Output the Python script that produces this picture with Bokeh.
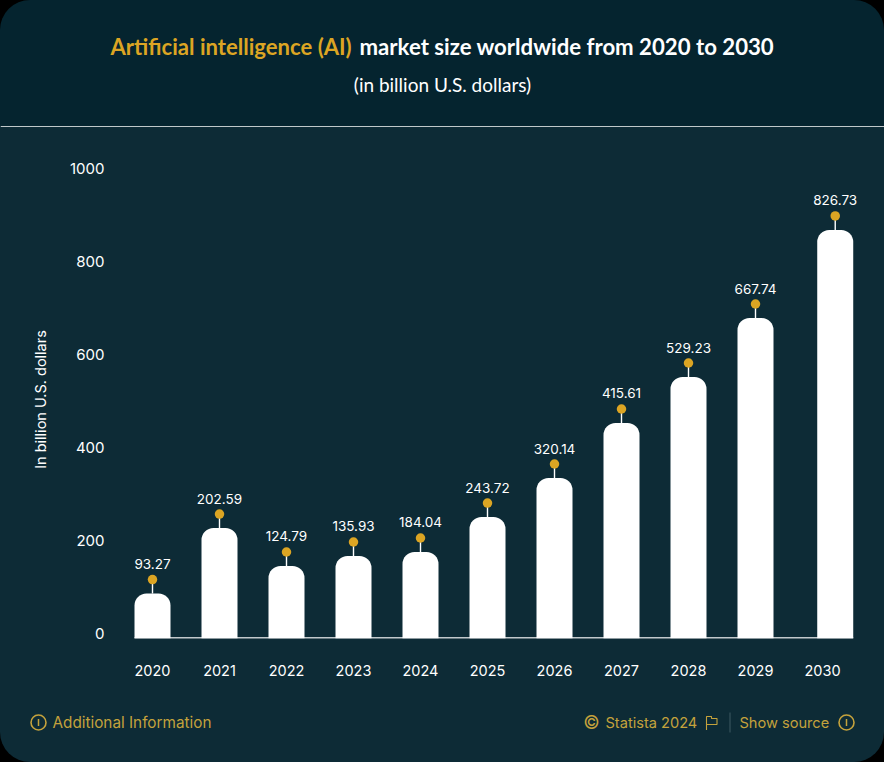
from bokeh.plotting import figure
from bokeh.layouts import column
from bokeh.models import ColumnDataSource, Range1d, LinearAxis, FixedTicker, CustomJSTickFormatter
from bokeh.core.properties import value
from bokeh.embed import file_html
from bokeh.resources import INLINE

years = [2020, 2021, 2022, 2023, 2024, 2025, 2026, 2027, 2028, 2029, 2030]
# the numbers printed above the bars
value_labels = ["93.27", "202.59", "124.79", "135.93", "184.04", "243.72", "320.14", "415.61", "529.23", "667.74", "826.73"]
# bar heights as drawn, read against the y axis (the reference's bars do not follow the printed numbers)
bar_heights = [96, 236.9, 155.3, 176.8, 185.4, 260.6, 344.5, 462.8, 561.7, 688.6, 877.9]
# bar centres; the reference shifts the last bar to the right of its tick label
bar_centres = [2020, 2021, 2022, 2023, 2024, 2025, 2026, 2027, 2028, 2029, 2030.19]
y_ticks = [0, 200, 400, 600, 800, 1000]

BG = "#0d2b36"; HEADER = "#05242f"; GOLD = "#dca523"; FOOT = "#c4a23c"; WHITE = "#ffffff"
W = 884
HEAD_H, MAIN_H, FOOT_H = 127, 573, 62
L, R = 118, 868
TOP, BOTTOM = 33, 62          # frame margins of the main figure
FRAME_H = MAIN_H - TOP - BOTTOM
PX_PER_UNIT = 0.465
FONT = "Lato"; FONT2 = "Inter"


def panel(height, fill):
    f = figure(width=W, height=height, output_backend="svg", toolbar_location=None,
               x_range=Range1d(0, W), y_range=Range1d(height, 0), min_border=0, frame_align=False,
               background_fill_alpha=0, border_fill_alpha=0, outline_line_color=None,
               x_axis_type=None, y_axis_type=None, styles={"background": fill})
    f.grid.visible = False
    return f


def put(f, text, x, y, color, size, style="normal", align="left", font=FONT2):
    f.text(x=[x], y=[y], text=[text], text_color=color, text_font=value(font), text_font_size=size,
           text_font_style=style, text_align=align, text_baseline="middle")


# ---------- header ----------
head = panel(HEAD_H, HEADER)
put(head, "Artificial intelligence (AI)", 110, 45.5, GOLD, "22.1px", "bold", font=FONT)
put(head, "market size worldwide from 2020 to 2030", 359, 45.5, WHITE, "22.2px", "bold", font=FONT)
put(head, "(in billion U.S. dollars)", 442, 84, WHITE, "19px", align="center", font=FONT)
head.segment(x0=[0], x1=[W], y0=[126.4], y1=[126.4], line_color=WHITE, line_width=1.2)

# ---------- chart ----------
y_start = -0.3 / PX_PER_UNIT
y_end = y_start + FRAME_H / PX_PER_UNIT
p = figure(width=W, height=MAIN_H, output_backend="svg", toolbar_location=None, frame_align=False,
           min_border_left=L, min_border_right=W - R, min_border_top=TOP, min_border_bottom=BOTTOM,
           x_range=Range1d(2020 + (L - 152) / 67, 2020 + (R - 152) / 67),
           y_range=Range1d(y_start, y_end),
           background_fill_alpha=0, border_fill_alpha=0, outline_line_color=None, styles={"background": BG})
p.grid.visible = False

# tick labels sit a few pixels above the bars' baseline in the reference
shift = 5 / PX_PER_UNIT
p.extra_y_ranges["ticks"] = Range1d(y_start - shift, y_end - shift)
p.yaxis.visible = False
yax = LinearAxis(y_range_name="ticks", ticker=FixedTicker(ticks=y_ticks), axis_line_color=None,
                 major_tick_line_color=None, minor_tick_line_color=None,
                 major_label_text_color=WHITE, major_label_text_font=FONT2,
                 major_label_text_font_size="15px", major_label_standoff=8,
                 axis_label="In billion U.S. dollars", axis_label_text_color=WHITE,
                 axis_label_text_font=FONT2, axis_label_text_font_size="14.5px",
                 axis_label_text_font_style="normal", axis_label_standoff=18)
p.add_layout(yax, "left")

p.xaxis.ticker = FixedTicker(ticks=years)
p.xaxis.axis_line_color = None
p.xaxis.major_tick_line_color = None
p.xaxis.minor_tick_line_color = None
p.xaxis.major_label_text_color = WHITE
p.xaxis.major_label_text_font = FONT2
p.xaxis.major_label_text_font_size = "14.5px"
p.xaxis.major_label_standoff = 20
p.xaxis.formatter = CustomJSTickFormatter(code="return String(tick)")

STEM = 14 / PX_PER_UNIT
BAR_W = 36 / 67
src = ColumnDataSource(dict(x=bar_centres, top=bar_heights, label=value_labels,
                            dot=[h + STEM for h in bar_heights]))
p.segment(x0=[bar_centres[0] - BAR_W / 2], x1=[bar_centres[-1] + BAR_W / 2], y0=[0.5], y1=[0.5],
          line_color=WHITE, line_width=1.5)
p.vbar(x="x", top="top", bottom=y_start, width=BAR_W, source=src, fill_color=WHITE, line_color=None,
       border_radius=(12, 12, 0, 0))
p.segment(x0="x", x1="x", y0="top", y1="dot", source=src, line_color=WHITE, line_width=1.4)
p.scatter(x="x", y="dot", source=src, size=9.5, marker="circle", fill_color=GOLD, line_color=None)
p.text(x="x", y="dot", text="label", source=src, y_offset=-15.5, text_align="center", text_baseline="middle",
       text_color=WHITE, text_font=value(FONT2), text_font_size="13.5px")

# ---------- footer ----------
OFF = HEAD_H + MAIN_H
foot = panel(FOOT_H, BG)
FY = 722 - OFF


def info(cx, cy):
    foot.scatter(x=[cx], y=[cy], size=15, marker="circle", fill_alpha=0, line_color=FOOT, line_width=1.6)
    foot.segment(x0=[cx], x1=[cx], y0=[cy - 3.5], y1=[cy + 3.5], line_color=FOOT, line_width=1.5)


info(38, FY)
put(foot, "Additional Information", 52, FY, FOOT, "15.3px")
put(foot, "©", 591, FY, FOOT, "18px", align="center")
put(foot, "Statista 2024", 605, FY, FOOT, "14.6px")
foot.line(x=[706, 706, 711, 711, 716.5, 716.5, 706], y=[FY + 7.5, FY - 6, FY - 6, FY - 4, FY - 4, FY + 2, FY + 2],
          line_color=FOOT, line_width=1.1)
foot.segment(x0=[729.5], x1=[729.5], y0=[FY - 10], y1=[FY + 10], line_color="#3f5a63", line_width=1)
put(foot, "Show source", 739, FY, FOOT, "14.6px")
info(846, FY)

page = column(head, p, foot, spacing=0, styles={"border-radius": "30px", "overflow": "hidden"})

html = file_html(page, INLINE)
html = html.replace("<head>", "<head><style>html,body{margin:0;padding:0;background:#000;overflow:hidden}</style>", 1)
open("out.html", "w").write(html)
